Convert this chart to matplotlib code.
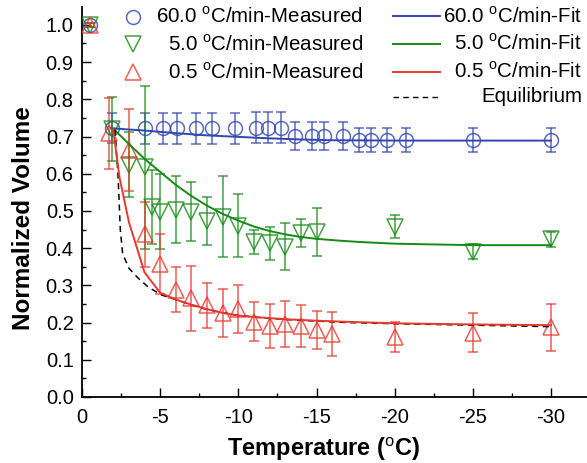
import matplotlib
matplotlib.use("Agg")
import matplotlib.pyplot as plt
from matplotlib.ticker import MultipleLocator, FixedLocator
from matplotlib.lines import Line2D

plt.rcParams['font.family'] = ['Liberation Sans', 'DejaVu Sans']
plt.rcParams['mathtext.fontset'] = 'custom'
plt.rcParams['mathtext.rm'] = 'Liberation Sans'

# ---------------- data ----------------
fast_T = [-0.5, -1.9, -4.0, -5.2, -6.1, -7.3, -8.3, -9.8, -11.1, -11.9, -12.7, -13.6,
          -14.7, -15.5, -16.7, -17.7, -18.5, -19.5, -20.7, -25.0, -30.0]
fast_V = [1.0, 0.722, 0.722, 0.722, 0.722, 0.722, 0.722, 0.722, 0.724, 0.724, 0.724, 0.702,
          0.702, 0.702, 0.702, 0.691, 0.691, 0.691, 0.691, 0.691, 0.691]
fast_E = [0.005, 0.04, 0.042, 0.042, 0.042, 0.042, 0.042, 0.042, 0.042, 0.042, 0.042, 0.037,
          0.037, 0.037, 0.037, 0.032, 0.032, 0.032, 0.032, 0.032, 0.032]

mid_T = [-0.5, -1.9, -3.0, -4.0, -4.5, -5.0, -6.0, -7.0, -8.0, -9.0, -10.0, -11.0,
         -12.0, -13.0, -14.0, -15.0, -20.0, -25.0, -30.0]
mid_V = [1.0, 0.72, 0.624, 0.617, 0.51, 0.498, 0.503, 0.498, 0.473, 0.485, 0.46, 0.417,
         0.413, 0.404, 0.44, 0.444, 0.458, 0.39, 0.424]
mid_E = [0.005, 0.085, 0.087, 0.22, 0.10, 0.10, 0.09, 0.08, 0.065, 0.11, 0.085, 0.033,
         0.044, 0.064, 0.038, 0.065, 0.03, 0.02, 0.02]

slow_T = [-0.5, -1.7, -3.0, -4.0, -5.0, -6.0, -7.0, -8.0, -9.0, -10.0, -11.0, -12.0,
          -13.0, -14.0, -15.0, -16.0, -20.0, -25.0, -30.0]
slow_V = [1.0, 0.709, 0.664, 0.437, 0.357, 0.288, 0.265, 0.246, 0.225, 0.236, 0.202, 0.191,
          0.196, 0.191, 0.180, 0.169, 0.162, 0.173, 0.187]
slow_E = [0.005, 0.095, 0.11, 0.087, 0.08, 0.06, 0.088, 0.06, 0.065, 0.064, 0.052, 0.058,
          0.062, 0.056, 0.052, 0.060, 0.040, 0.052, 0.063]

fastfit_T = [-1.9, -4, -6, -8, -10, -12, -14, -16, -20, -25, -30]
fastfit_V = [0.722, 0.716, 0.709, 0.703, 0.699, 0.695, 0.692, 0.690, 0.689, 0.689, 0.689]

midfit_T = [-1.9, -3, -4, -5, -6, -7, -8, -9, -10, -11, -12, -13, -14, -15, -16.5, -18,
            -20, -25, -30]
midfit_V = [0.725, 0.68, 0.64, 0.605, 0.57, 0.54, 0.514, 0.492, 0.474, 0.458, 0.446,
            0.437, 0.430, 0.425, 0.420, 0.416, 0.412, 0.408, 0.408]

slowfit_T = [-2.0, -2.4, -3.0, -4.0, -5.0, -6.0, -7.0, -8.0, -9.0, -10.0, -11.0, -12.0,
             -13.0, -14.0, -15.0, -17.0, -20.0, -25.0, -30.0]
slowfit_V = [0.718, 0.59, 0.47, 0.335, 0.28, 0.262, 0.248, 0.236, 0.226, 0.219, 0.215,
             0.212, 0.209, 0.207, 0.205, 0.202, 0.198, 0.195, 0.193]

eq_T = [-2.1, -2.3, -2.45, -2.6, -3.0, -3.6, -4.25, -5.1, -6.2, -7.2, -8.1, -10, -12,
        -14, -17, -20, -25, -30]
eq_V = [0.718, 0.60, 0.45, 0.385, 0.346, 0.319, 0.295, 0.274, 0.259, 0.245, 0.234, 0.219,
        0.211, 0.206, 0.200, 0.197, 0.193, 0.189]

xticks = [0, -5, -10, -15, -20, -25, -30]
xticklabels = ['0', '-5', '-10', '-15', '-20', '-25', '-30']
yticks = [0.0, 0.1, 0.2, 0.3, 0.4, 0.5, 0.6, 0.7, 0.8, 0.9, 1.0]
yticklabels = ['0.0', '0.1', '0.2', '0.3', '0.4', '0.5', '0.6', '0.7', '0.8', '0.9', '1.0']

meas_labels = ['60.0 $^{\\mathrm{o}}$C/min-Measured',
               '5.0 $^{\\mathrm{o}}$C/min-Measured',
               '0.5 $^{\\mathrm{o}}$C/min-Measured']
fit_labels = ['60.0 $^{\\mathrm{o}}$C/min-Fit',
              '5.0 $^{\\mathrm{o}}$C/min-Fit',
              '0.5 $^{\\mathrm{o}}$C/min-Fit',
              'Equilibrium']

# ---------------- style ----------------
BLUE = '#3146b0'
GREEN = '#168a16'
RED = '#e8382c'

fig = plt.figure(figsize=(5.87, 4.63), dpi=100)
ax = fig.add_axes([82 / 587, 66 / 463, 505 / 587, 390 / 463])

def meas(T, V, E, color, marker, ms):
    ax.errorbar(T, V, yerr=E, fmt=marker, ms=ms, mfc='none', mec=color, mew=1.1,
                ecolor=color, elinewidth=1.1, capsize=3.3, capthick=1.1,
                color=color, alpha=0.8, zorder=3)

meas(fast_T, fast_V, fast_E, BLUE, 'o', 10)
meas(mid_T, mid_V, mid_E, GREEN, 'v', 11)
meas(slow_T, slow_V, slow_E, RED, '^', 11)

ax.plot(fastfit_T, fastfit_V, color=BLUE, lw=1.4, zorder=4)
ax.plot(midfit_T, midfit_V, color=GREEN, lw=1.4, zorder=4)
ax.plot(eq_T, eq_V, color='black', lw=1.1, ls=(0, (4, 3)), zorder=4)
ax.plot(slowfit_T, slowfit_V, color=RED, lw=1.4, zorder=4)

ax.set_xlim(0, -32.3)
ax.set_ylim(0, 1.048)
ax.xaxis.set_major_locator(FixedLocator(xticks))
ax.set_xticklabels(xticklabels)
ax.xaxis.set_minor_locator(MultipleLocator(2.5))
ax.yaxis.set_major_locator(FixedLocator(yticks))
ax.set_yticklabels(yticklabels)
ax.yaxis.set_minor_locator(MultipleLocator(0.05))

for s in ['top', 'right']:
    ax.spines[s].set_visible(False)
for s in ['left', 'bottom']:
    ax.spines[s].set_linewidth(1.3)
ax.tick_params(which='major', direction='in', length=6.5, width=1.0, labelsize=14.5)
ax.tick_params(axis='x', which='major', pad=8)
ax.tick_params(axis='y', which='major', pad=6)
ax.tick_params(which='minor', direction='in', length=3.2, width=1.0)

ax.set_xlabel('Temperature ($^{\\mathrm{o}}$C)', fontsize=17, fontweight='bold')
ax.set_ylabel('Normalized Volume', fontsize=17.5, fontweight='bold')
ax.xaxis.set_label_coords(0.479, -0.097)
ax.yaxis.set_label_coords(-0.093, 0.46)

# ---------------- legend (two columns, right-aligned text) ----------------
def px_to_ax(x, y):
    return (x - 82) / 505, (397 - y) / 390

meas_style = [(BLUE, 'o', 10), (GREEN, 'v', 11), (RED, '^', 11)]
meas_rows = [16.7, 44.3, 72.0]
for (c, m, ms), lab, yr in zip(meas_style, meas_labels, meas_rows):
    mx, my = px_to_ax(133, yr)
    ax.add_line(Line2D([mx], [my], marker=m, ms=ms, mfc='none', mec=c, mew=1.1,
                       alpha=0.8, transform=ax.transAxes, clip_on=False))
    tx, ty = px_to_ax(363, yr)
    ax.text(tx, ty, lab, transform=ax.transAxes, ha='right', va='center', fontsize=14.8)

fit_style = [(BLUE, '-', 1.4), (GREEN, '-', 1.4), (RED, '-', 1.4), ('black', (0, (4, 3)), 1.0)]
fit_rows = [16.2, 43.5, 71.5, 97.0]
for (c, ls, lw), lab, yr in zip(fit_style, fit_labels, fit_rows):
    x0, yy = px_to_ax(393, yr)
    x1, _ = px_to_ax(440, yr)
    ax.add_line(Line2D([x0, x1], [yy, yy], color=c, ls=ls, lw=lw,
                       transform=ax.transAxes, clip_on=False))
    tx, ty = px_to_ax(582, yr)
    ax.text(tx, ty, lab, transform=ax.transAxes, ha='right', va='center', fontsize=14.8)

fig.savefig('out.png', dpi=100)
